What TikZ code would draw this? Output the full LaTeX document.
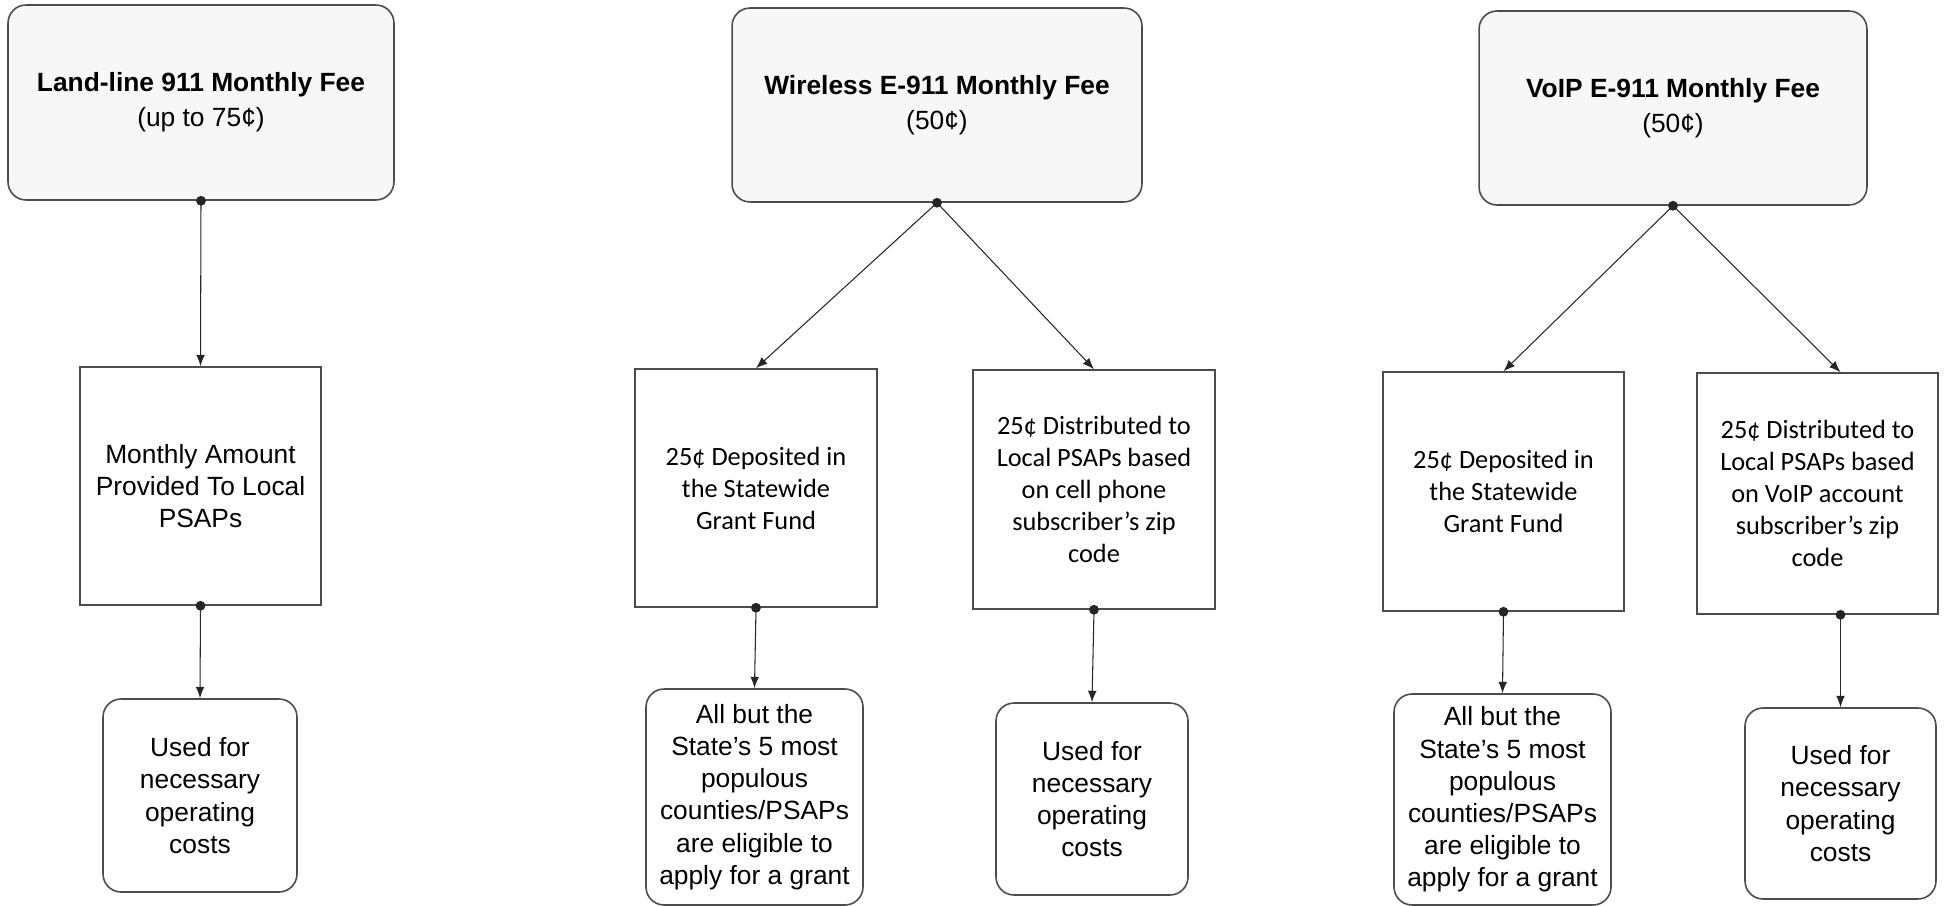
\documentclass[tikz,border=0pt]{standalone}
\usepackage{fontspec}
\setmainfont{Liberation Sans}
\newfontfamily\calibfont{Carlito}
\usepackage{tikz}
\usetikzlibrary{arrows.meta}

\begin{document}
\begin{tikzpicture}[x=0.02cm, y=-0.02cm, >={Latex[length=6.5pt,width=5pt]},
  feebox/.style={draw=black!70, line width=0.9pt, rounded corners=0.36cm, fill=black!3,
    align=center, font=\fontsize{15}{20}\selectfont},
  sharebox/.style={draw=black!70, line width=0.9pt, fill=white, align=center},
  usebox/.style={draw=black!70, line width=0.9pt, rounded corners=0.36cm, fill=white,
    align=center, font=\fontsize{15}{18.3}\selectfont},
  calibtext/.style={font=\calibfont\fontsize{15}{18.2}\selectfont},
  arialtext/.style={font=\fontsize{15}{18}\selectfont},
  flow/.style={->, line width=0.6pt, black!85}]
  \useasboundingbox (0,0) rectangle (1944,906);

  \node[feebox, minimum width=7.72cm, minimum height=3.9cm] (ltop) at (201,102.5)
    {\textbf{Land-line 911 Monthly Fee}\\(up to 75¢)};
  \node[sharebox, arialtext, minimum width=4.82cm, minimum height=4.76cm] (lmid) at (200.5,486)
    {Monthly Amount\\Provided To Local\\PSAPs};
  \node[usebox, minimum width=3.88cm, minimum height=3.86cm] (lbot) at (200,795.5)
    {Used for\\necessary\\operating\\costs};

  \node[feebox, minimum width=8.2cm, minimum height=3.88cm] (wtop) at (937,105)
    {\textbf{Wireless E-911 Monthly Fee}\\(50¢)};
  \node[sharebox, calibtext, minimum width=4.84cm, minimum height=4.76cm] (wfund) at (756,488)
    {25¢ Deposited in\\the Statewide\\Grant Fund};
  \node[sharebox, calibtext, minimum width=4.84cm, minimum height=4.78cm] (wlocal) at (1094,489.5)
    {25¢ Distributed to\\Local PSAPs based\\on cell phone\\subscriber’s zip\\code};
  \node[usebox, minimum width=4.34cm, minimum height=4.32cm] (wgrant) at (754.5,797)
    {All but the\\State’s 5 most\\populous\\counties/PSAPs\\are eligible to\\apply for a grant};
  \node[usebox, minimum width=3.84cm, minimum height=3.84cm] (wcost) at (1092,799)
    {Used for\\necessary\\operating\\costs};

  \node[feebox, minimum width=7.76cm, minimum height=3.88cm] (vtop) at (1673,108)
    {\textbf{VoIP E-911 Monthly Fee}\\(50¢)};
  \node[sharebox, calibtext, minimum width=4.82cm, minimum height=4.78cm] (vfund) at (1503.5,491.5)
    {25¢ Deposited in\\the Statewide\\Grant Fund};
  \node[sharebox, calibtext, minimum width=4.82cm, minimum height=4.82cm] (vlocal) at (1817.5,493.5)
    {25¢ Distributed to\\Local PSAPs based\\on VoIP account\\subscriber’s zip\\code};
  \node[usebox, minimum width=4.34cm, minimum height=4.22cm] (vgrant) at (1502.5,799.5)
    {All but the\\State’s 5 most\\populous\\counties/PSAPs\\are eligible to\\apply for a grant};
  \node[usebox, minimum width=3.82cm, minimum height=3.82cm] (vcost) at (1840.5,803.5)
    {Used for\\necessary\\operating\\costs};

  \coordinate (vin) at (vlocal.north -| vcost.north);
  \coordinate (vout) at (vlocal.south -| vcost.north);

  \draw[flow] (ltop.south) -- (lmid.north);
  \draw[flow] (lmid.south) -- (lbot.north);
  \draw[flow] (wtop.south) -- (wfund.north);
  \draw[flow] (wtop.south) -- (wlocal.north);
  \draw[flow] (wfund.south) -- (wgrant.north);
  \draw[flow] (wlocal.south) -- (wcost.north);
  \draw[flow] (vtop.south) -- (vfund.north);
  \draw[flow] (vtop.south) -- (vin);
  \draw[flow] (vfund.south) -- (vgrant.north);
  \draw[flow] (vout) -- (vcost.north);

  \fill[black!85] (ltop.south) circle (2.8pt);
  \fill[black!85] (lmid.south) circle (2.8pt);
  \fill[black!85] (wtop.south) circle (2.8pt);
  \fill[black!85] (wfund.south) circle (2.8pt);
  \fill[black!85] (wlocal.south) circle (2.8pt);
  \fill[black!85] (vtop.south) circle (2.8pt);
  \fill[black!85] (vfund.south) circle (2.8pt);
  \fill[black!85] (vout) circle (2.8pt);
\end{tikzpicture}
\end{document}
